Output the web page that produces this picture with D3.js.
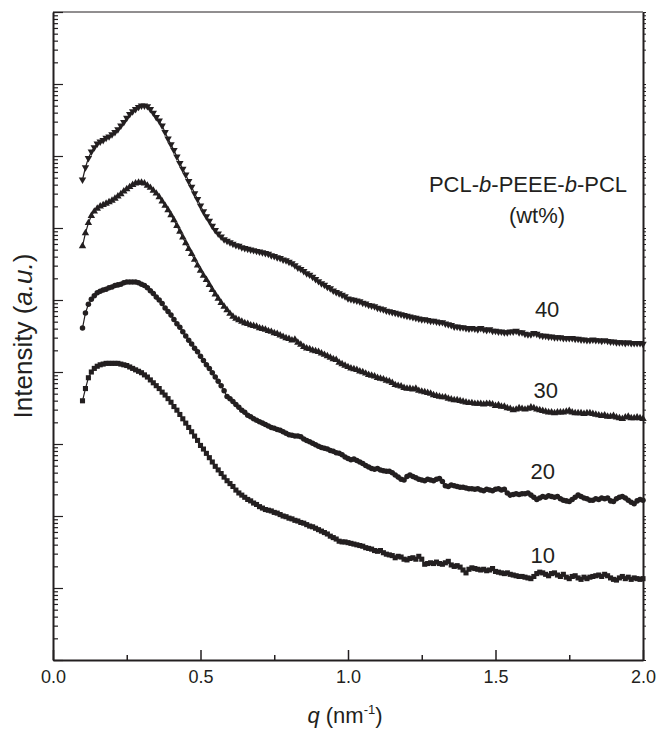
<!DOCTYPE html>
<meta charset="utf-8">
<head>
<style>
body { margin: 0; background: #fff; }
text { font-family: "Liberation Sans", Arial, sans-serif; fill: #231f20; }
.axis path, .axis line { stroke: #231f20; }
.series path.line { fill: none; stroke: #231f20; stroke-width: 1.2px; }
</style>
</head>
<body>
<svg width="658" height="731"></svg>
<script src="https://cdn.jsdelivr.net/npm/d3@7"></script>
<script>
// q runs from 0.10 to 2.00 nm^-1 in steps of 0.01; values are log10 of intensity (a.u.)
var qStart = 0.10, qStep = 0.01;

var s10 = [
  3.60,3.77,3.92,4.00,4.05,4.08,4.10,4.11,4.12,4.12,
  4.12,4.12,4.12,4.11,4.10,4.09,4.07,4.05,4.03,4.01,
  3.99,3.96,3.93,3.89,3.85,3.81,3.77,3.72,3.68,3.63,
  3.58,3.52,3.47,3.41,3.35,3.29,3.23,3.17,3.11,3.05,
  2.98,2.93,2.87,2.81,2.75,2.69,2.64,2.59,2.54,2.49,
  2.45,2.41,2.36,2.32,2.29,2.26,2.23,2.21,2.18,2.16,
  2.13,2.11,2.09,2.08,2.07,2.05,2.04,2.02,2.00,1.99,
  1.97,1.96,1.94,1.93,1.91,1.90,1.88,1.86,1.85,1.83,
  1.81,1.79,1.77,1.75,1.72,1.70,1.68,1.65,1.64,1.64,
  1.63,1.62,1.61,1.60,1.59,1.58,1.56,1.55,1.54,1.52,
  1.51,1.52,1.49,1.47,1.46,1.45,1.42,1.44,1.43,1.40,
  1.39,1.41,1.42,1.40,1.44,1.40,1.33,1.34,1.35,1.34,
  1.36,1.34,1.33,1.35,1.37,1.32,1.30,1.31,1.29,1.25,
  1.21,1.26,1.28,1.27,1.26,1.25,1.26,1.24,1.25,1.27,
  1.23,1.22,1.21,1.20,1.21,1.19,1.18,1.17,1.16,1.16,
  1.15,1.14,1.13,1.16,1.20,1.22,1.21,1.19,1.17,1.20,
  1.21,1.18,1.16,1.19,1.15,1.13,1.16,1.17,1.14,1.12,
  1.15,1.13,1.15,1.16,1.17,1.18,1.16,1.19,1.17,1.14,
  1.12,1.11,1.14,1.16,1.13,1.15,1.12,1.14,1.13,1.12,
  1.13
];

var s20 = [
  4.61,4.82,4.94,5.01,5.06,5.10,5.12,5.14,5.15,5.17,
  5.18,5.20,5.21,5.22,5.24,5.25,5.25,5.25,5.25,5.24,
  5.22,5.20,5.17,5.13,5.09,5.04,5.00,4.95,4.89,4.84,
  4.79,4.73,4.67,4.62,4.56,4.50,4.44,4.39,4.33,4.28,
  4.22,4.16,4.10,4.05,3.99,3.93,3.87,3.81,3.74,3.66,
  3.63,3.59,3.55,3.51,3.47,3.44,3.40,3.38,3.35,3.33,
  3.31,3.29,3.27,3.25,3.23,3.22,3.20,3.19,3.17,3.15,
  3.13,3.12,3.11,3.11,3.10,3.07,3.05,3.03,3.01,2.99,
  2.97,2.95,2.94,2.93,2.91,2.90,2.88,2.87,2.85,2.82,
  2.80,2.78,2.79,2.77,2.75,2.73,2.70,2.68,2.66,2.65,
  2.66,2.64,2.63,2.62,2.62,2.60,2.57,2.54,2.51,2.50,
  2.55,2.57,2.55,2.53,2.51,2.50,2.49,2.51,2.50,2.49,
  2.51,2.52,2.48,2.42,2.41,2.43,2.42,2.41,2.40,2.40,
  2.39,2.38,2.38,2.37,2.38,2.36,2.35,2.37,2.36,2.35,
  2.37,2.38,2.36,2.37,2.32,2.29,2.30,2.31,2.30,2.31,
  2.31,2.32,2.29,2.26,2.23,2.25,2.27,2.26,2.28,2.27,
  2.26,2.27,2.24,2.22,2.21,2.20,2.23,2.26,2.29,2.27,
  2.25,2.24,2.22,2.22,2.24,2.23,2.25,2.24,2.25,2.21,
  2.20,2.24,2.26,2.27,2.25,2.22,2.19,2.17,2.21,2.23,
  2.22
];

var s30 = [
  5.75,5.93,6.07,6.17,6.23,6.27,6.30,6.32,6.34,6.36,
  6.38,6.41,6.44,6.47,6.51,6.54,6.57,6.60,6.62,6.63,
  6.63,6.62,6.59,6.56,6.52,6.48,6.43,6.37,6.31,6.25,
  6.18,6.11,6.03,5.95,5.87,5.79,5.71,5.64,5.56,5.48,
  5.41,5.34,5.28,5.21,5.14,5.08,5.02,4.96,4.91,4.86,
  4.81,4.77,4.74,4.72,4.70,4.68,4.67,4.65,4.64,4.63,
  4.61,4.60,4.59,4.57,4.56,4.54,4.53,4.51,4.49,4.47,
  4.46,4.44,4.45,4.41,4.38,4.35,4.33,4.32,4.30,4.29,
  4.28,4.26,4.24,4.22,4.20,4.18,4.17,4.13,4.11,4.09,
  4.07,4.05,4.04,4.03,4.01,4.00,3.98,3.96,3.95,3.94,
  3.92,3.91,3.90,3.88,3.87,3.85,3.82,3.81,3.80,3.78,
  3.77,3.77,3.76,3.77,3.74,3.73,3.72,3.71,3.70,3.68,
  3.67,3.66,3.65,3.65,3.63,3.62,3.61,3.61,3.60,3.59,
  3.58,3.57,3.57,3.56,3.56,3.56,3.55,3.56,3.56,3.55,
  3.53,3.54,3.52,3.52,3.50,3.49,3.47,3.48,3.50,3.49,
  3.48,3.49,3.51,3.50,3.48,3.47,3.46,3.45,3.44,3.44,
  3.43,3.44,3.44,3.44,3.45,3.46,3.44,3.43,3.43,3.43,
  3.42,3.43,3.43,3.42,3.41,3.40,3.39,3.40,3.38,3.38,
  3.39,3.37,3.36,3.35,3.37,3.38,3.36,3.36,3.37,3.36,
  3.35
];

var s40 = [
  6.67,6.84,6.97,7.06,7.12,7.17,7.20,7.22,7.25,7.27,
  7.30,7.33,7.37,7.42,7.47,7.53,7.58,7.62,7.65,7.68,
  7.70,7.70,7.69,7.65,7.60,7.54,7.49,7.42,7.33,7.24,
  7.16,7.08,6.99,6.90,6.82,6.74,6.65,6.57,6.48,6.40,
  6.31,6.23,6.16,6.10,6.03,5.97,5.92,5.88,5.84,5.82,
  5.80,5.78,5.76,5.75,5.73,5.72,5.71,5.70,5.69,5.68,
  5.67,5.66,5.65,5.64,5.62,5.61,5.59,5.58,5.56,5.55,
  5.53,5.51,5.48,5.45,5.43,5.40,5.37,5.35,5.32,5.29,
  5.26,5.23,5.21,5.18,5.16,5.13,5.11,5.09,5.07,5.05,
  5.02,5.01,5.00,4.99,4.98,4.96,4.95,4.93,4.92,4.91,
  4.89,4.88,4.87,4.85,4.84,4.83,4.82,4.81,4.80,4.79,
  4.78,4.77,4.76,4.75,4.74,4.73,4.73,4.72,4.71,4.71,
  4.70,4.69,4.69,4.67,4.66,4.65,4.63,4.63,4.62,4.62,
  4.61,4.60,4.61,4.60,4.59,4.61,4.59,4.58,4.59,4.57,
  4.57,4.56,4.56,4.55,4.55,4.56,4.56,4.57,4.55,4.55,
  4.53,4.52,4.52,4.54,4.53,4.51,4.50,4.50,4.49,4.49,
  4.48,4.48,4.48,4.47,4.47,4.47,4.47,4.46,4.46,4.45,
  4.45,4.44,4.44,4.45,4.44,4.44,4.43,4.44,4.43,4.42,
  4.42,4.41,4.41,4.41,4.40,4.41,4.40,4.40,4.40,4.40,
  4.39
];

var seriesNames = ["10", "20", "30", "40"];
var xTicks = [0, 0.5, 1.0, 1.5, 2.0];
var xMinorTicks = [0.25, 0.75, 1.25, 1.75];

var svg = d3.select("svg"),
    margin = {top: 12, right: 15, bottom: 71, left: 53},
    width = +svg.attr("width") - margin.left - margin.right,
    height = +svg.attr("height") - margin.top - margin.bottom,
    g = svg.append("g").attr("transform", "translate(" + margin.left + "," + margin.top + ")");

var x = d3.scaleLinear().domain([0, 2]).range([0, width]);
var y = d3.scaleLog().domain([1, 1e9]).range([height, 0]);

var allTicks = y.ticks();
var majorTicks = allTicks.filter(function(d) { return Math.abs(Math.log10(d) % 1) < 1e-9; });
var minorTicks = allTicks.filter(function(d) { return Math.abs(Math.log10(d) % 1) >= 1e-9; });

// top frame line (thin)
g.append("line")
    .attr("x1", 0).attr("x2", width).attr("y1", 0).attr("y2", 0)
    .attr("stroke", "#231f20").attr("stroke-width", 1);

// left axis: ticks point inward
g.append("g").attr("class", "axis")
    .call(d3.axisLeft(y).tickValues(minorTicks).tickSize(-5).tickFormat(""))
    .call(function(a) { a.select(".domain").remove(); a.selectAll("line").attr("stroke-width", 1.2); });
g.append("g").attr("class", "axis")
    .call(d3.axisLeft(y).tickValues(majorTicks).tickSize(-10).tickSizeOuter(0).tickFormat(""))
    .call(function(a) { a.select(".domain").attr("stroke-width", 2); a.selectAll("line").attr("stroke-width", 1.2); });

// right axis: short outward ticks
g.append("g").attr("class", "axis")
    .attr("transform", "translate(" + width + ",0)")
    .call(d3.axisRight(y).tickValues(allTicks).tickSize(3).tickSizeOuter(0).tickFormat(""))
    .call(function(a) { a.select(".domain").attr("stroke-width", 2); a.selectAll("line").attr("stroke-width", 1); });

// bottom axis
g.append("g").attr("class", "axis")
    .attr("transform", "translate(0," + height + ")")
    .call(d3.axisBottom(x).tickValues(xMinorTicks).tickSize(-5).tickFormat(""))
    .call(function(a) { a.select(".domain").remove(); a.selectAll("line").attr("stroke-width", 1.5); });
g.append("g").attr("class", "axis")
    .attr("transform", "translate(0," + height + ")")
    .call(d3.axisBottom(x).tickValues(xTicks).tickSize(-10).tickSizeOuter(0).tickPadding(10).tickFormat(d3.format(".1f")))
    .call(function(a) {
      a.select(".domain").attr("stroke-width", 2);
      a.selectAll("line").attr("stroke-width", 1.5);
      a.selectAll("text").attr("font-size", 18).attr("font-family", "Liberation Sans, Arial, sans-serif").attr("fill", "#231f20");
    });

// series
var symbols = [
  {type: d3.symbolSquare, size: 26, rot: 0},
  {type: d3.symbolCircle, size: 24, rot: 0},
  {type: d3.symbolTriangle, size: 24, rot: 0},
  {type: d3.symbolTriangle, size: 24, rot: 180}
];
var line = d3.line()
    .x(function(d, i) { return x(qStart + i * qStep); })
    .y(function(d) { return y(Math.pow(10, d)); });

[s10, s20, s30, s40].forEach(function(data, k) {
  var sg = g.append("g").attr("class", "series");
  sg.append("path").datum(data).attr("class", "line").attr("d", line);
  var sym = d3.symbol().type(symbols[k].type).size(symbols[k].size);
  sg.selectAll(".pt").data(data).enter().append("path")
      .attr("class", "pt")
      .attr("d", sym)
      .attr("fill", "#231f20")
      .attr("transform", function(d, i) {
        return "translate(" + x(qStart + i * qStep) + "," + y(Math.pow(10, d)) + ") rotate(" + symbols[k].rot + ")";
      });
});

// series labels
var labelPos = [[1.66, 1.35], [1.66, 2.51], [1.67, 3.64], [1.675, 4.76]];
seriesNames.forEach(function(name, k) {
  g.append("text")
      .attr("x", x(labelPos[k][0]))
      .attr("y", y(Math.pow(10, labelPos[k][1])))
      .attr("text-anchor", "middle")
      .attr("font-size", 22)
      .text(name);
});

// legend title
var lt = g.append("text")
    .attr("x", 528 - margin.left).attr("y", 192 - margin.top)
    .attr("text-anchor", "middle").attr("font-size", 22);
lt.append("tspan").text("PCL-");
lt.append("tspan").attr("font-style", "italic").text("b");
lt.append("tspan").text("-PEEE-");
lt.append("tspan").attr("font-style", "italic").text("b");
lt.append("tspan").text("-PCL");
g.append("text")
    .attr("x", 537 - margin.left).attr("y", 223 - margin.top)
    .attr("text-anchor", "middle").attr("font-size", 22)
    .text("(wt%)");

// axis titles
var xt = svg.append("text")
    .attr("x", 345).attr("y", 723)
    .attr("text-anchor", "middle").attr("font-size", 22);
xt.append("tspan").attr("font-style", "italic").text("q");
xt.append("tspan").text(" (nm");
xt.append("tspan").attr("font-size", 13).attr("dy", -9).text("-1");
xt.append("tspan").attr("dy", 9).text(")");

var yt = svg.append("text")
    .attr("transform", "translate(32,336) rotate(-90)")
    .attr("text-anchor", "middle").attr("font-size", 26);
yt.append("tspan").text("Intensity (");
yt.append("tspan").attr("font-style", "italic").text("a.u.");
yt.append("tspan").text(")");
</script>
</body>
</html>
